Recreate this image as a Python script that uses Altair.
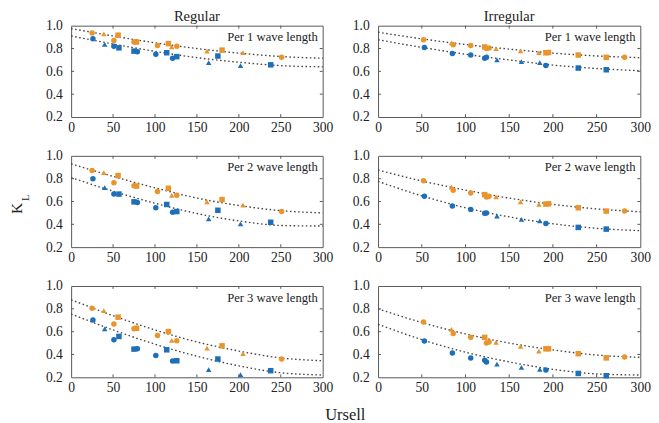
import altair as alt
import pandas as pd

# ---------------- data ----------------
ROWS = ["Per 1 wave length", "Per 2 wave length", "Per 3 wave length"]
COLS = ["Regular", "Irregular"]

# Regular tests
REG_OR_X = [25, 39, 51, 56, 75, 78, 103, 116, 120, 126, 162, 180, 205, 251]
REG_OR_S = ["circle", "triangle", "circle", "square", "circle", "square", "circle",
            "square", "triangle", "circle", "triangle", "square", "triangle", "circle"]
REG_OR_Y = [
    [.937, .929, .871, .917, .857, .857, .826, .843, .814, .820, .777, .786, .763, .723],
    [.872, .852, .765, .827, .739, .735, .688, .716, .654, .654, .597, .617, .569, .512],
    [.805, .785, .668, .727, .625, .630, .567, .601, .523, .520, .456, .476, .407, .360],
]
REG_BL_X = [26, 40, 51, 57, 75, 79, 101, 114, 121, 126, 164, 175, 202, 238]
REG_BL_S = ["circle", "triangle", "circle", "square", "square", "circle", "circle",
            "square", "circle", "square", "triangle", "square", "triangle", "square"]
REG_BL_Y = [
    [.886, .837, .820, .806, .777, .771, .749, .763, .714, .729, .677, .734, .651, .657],
    [.800, .722, .665, .665, .597, .592, .546, .574, .505, .512, .447, .523, .404, .418],
    [.703, .625, .529, .558, .447, .450, .392, .441, .343, .345, .267, .360, .223, .258],
]

# Irregular tests
IRR_OR_X = [52, 84, 86, 106, 122, 124, 127, 135, 163, 184, 192, 195, 229, 261, 282]
IRR_OR_S = ["circle", "triangle", "circle", "circle", "square", "circle", "circle",
            "triangle", "triangle", "triangle", "square", "square", "square", "square", "circle"]
IRR_OR_Y = [
    [.877, .849, .834, .826, .814, .800, .805, .800, .780, .763, .763, .765, .743, .723, .723],
    [.781, .727, .698, .675, .660, .640, .645, .640, .597, .574, .577, .580, .545, .516, .516],
    [.685, .620, .584, .550, .550, .500, .510, .507, .470, .430, .450, .450, .407, .370, .378],
]
IRR_BL_X = [53, 85, 106, 122, 124, 136, 164, 185, 192, 229, 261]
IRR_BL_S = ["circle", "circle", "circle", "circle", "circle", "triangle", "triangle",
            "triangle", "circle", "square", "square"]
IRR_BL_Y = [
    [.809, .757, .743, .714, .723, .700, .686, .677, .651, .629, .614],
    [.646, .560, .531, .496, .500, .473, .444, .430, .407, .373, .358],
    [.518, .412, .369, .350, .335, .315, .286, .269, .263, .234, .214],
]

# Dotted trend curves, read at these Ursell values
FIT_X = [0, 50, 100, 150, 200, 250, 300]
FIT = {
    ("Regular", 0): ([.975, .910, .850, .800, .760, .730, .715],
                     [.910, .840, .775, .720, .680, .650, .640]),
    ("Regular", 1): ([.930, .820, .720, .630, .565, .520, .500],
                     [.810, .690, .585, .495, .430, .390, .385]),
    ("Regular", 2): ([.880, .740, .615, .510, .430, .370, .345],
                     [.755, .615, .490, .385, .300, .240, .220]),
    ("Irregular", 0): ([.943, .885, .835, .795, .760, .735, .720],
                       [.877, .810, .750, .700, .655, .625, .605]),
    ("Irregular", 1): ([.876, .780, .700, .630, .575, .535, .510],
                       [.776, .650, .545, .465, .405, .365, .345]),
    ("Irregular", 2): ([.800, .680, .580, .500, .440, .395, .375],
                       [.665, .530, .420, .335, .270, .230, .220]),
}

X_TICKS = [0, 50, 100, 150, 200, 250, 300]
Y_TICKS = [0.2, 0.4, 0.6, 0.8, 1.0]

ORANGE = "#E8952C"
BLUE = "#1C6FB8"
FONT = "Liberation Serif"
TXT = "#222222"

W = {"Regular": 259, "Irregular": 270}
H = 94

xs = alt.Scale(domain=[0, 300], nice=False, zero=False)
ys = alt.Scale(domain=[0.2, 1.0], nice=False, zero=False)
color_scale = alt.Scale(domain=["orange", "blue"], range=[ORANGE, BLUE])
shape_scale = alt.Scale(domain=["circle", "square", "triangle"],
                        range=["circle", "square", "triangle-up"])

xaxis = alt.Axis(values=X_TICKS, title=None, labelFlush=False, labelOverlap=False,
                 ticks=False, domain=False, grid=False, labelPadding=4,
                 labelFont=FONT, labelFontSize=14, labelColor=TXT)
yaxis = alt.Axis(values=Y_TICKS, format=".1f", title=None, labelFlush=False,
                 labelOverlap=False, ticks=False, domain=False, grid=False, labelPadding=9,
                 labelFont=FONT, labelFontSize=14, labelColor=TXT)
X = lambda: alt.X("u:Q", scale=xs, axis=xaxis)
Y = lambda: alt.Y("k:Q", scale=ys, axis=yaxis)


def points_df(col, r):
    rows = []
    if col == "Regular":
        sets = [("orange", REG_OR_X, REG_OR_S, REG_OR_Y[r]), ("blue", REG_BL_X, REG_BL_S, REG_BL_Y[r])]
    else:
        sets = [("orange", IRR_OR_X, IRR_OR_S, IRR_OR_Y[r]), ("blue", IRR_BL_X, IRR_BL_S, IRR_BL_Y[r])]
    for ser, xv, sv, yv in sets:
        for a, s, b in zip(xv, sv, yv):
            rows.append({"u": a, "k": b, "series": ser, "shape": s})
    return pd.DataFrame(rows)


def fit_df(col, r):
    o, b = FIT[(col, r)]
    rows = [{"u": a, "k": v, "series": "orange"} for a, v in zip(FIT_X, o)]
    rows += [{"u": a, "k": v, "series": "blue"} for a, v in zip(FIT_X, b)]
    return pd.DataFrame(rows)


def text_layer(s, **kw):
    enc = {k: v for k, v in kw.items() if k in ("x", "y")}
    mk = {k: v for k, v in kw.items() if k not in ("x", "y")}
    return alt.Chart(pd.DataFrame({"t": [s]})).mark_text(font=FONT, color=TXT, **mk).encode(
        text="t:N", **enc)


def panel(col, r):
    w = W[col]

    lines = alt.Chart(fit_df(col, r)).mark_line(
        color="#444444", strokeDash=[1.6, 2.6], strokeWidth=1.4, interpolate="monotone"
    ).encode(x=X(), y=Y(), detail="series:N")

    pts = alt.Chart(points_df(col, r)).mark_point(filled=True, size=32, opacity=1).encode(
        x=X(), y=Y(),
        color=alt.Color("series:N", scale=color_scale, legend=None),
        shape=alt.Shape("shape:N", scale=shape_scale, legend=None),
    )

    xt = pd.DataFrame({"u": X_TICKS[1:-1]})
    yt = pd.DataFrame({"k": Y_TICKS[1:-1]})
    tick_style = dict(color="#555555", strokeWidth=1)
    xt_b = alt.Chart(xt).mark_rule(**tick_style).encode(
        x=X(), y=alt.value(H), y2=alt.value(H - 3))
    xt_t = alt.Chart(xt).mark_rule(**tick_style).encode(
        x=X(), y=alt.value(0), y2=alt.value(3))
    yt_l = alt.Chart(yt).mark_rule(**tick_style).encode(
        y=Y(), x=alt.value(0), x2=alt.value(3))
    yt_r = alt.Chart(yt).mark_rule(**tick_style).encode(
        y=Y(), x=alt.value(w - 3), x2=alt.value(w))

    label = text_layer(ROWS[r], align="right", baseline="alphabetic", fontSize=13,
                       x=alt.value(w - 5), y=alt.value(16))

    layers = [lines, xt_b, xt_t, yt_l, yt_r, pts, label]

    if r == 0:
        layers.append(text_layer(col, align="center", baseline="top", fontSize=15,
                                 x=alt.value(w / 2), y=alt.value(-17)))
    if col == "Regular" and r == 1:
        layers.append(text_layer("K", angle=270, fontSize=16, align="center", baseline="middle",
                                 x=alt.value(-56), y=alt.value(54)))
        layers.append(text_layer("L", angle=270, fontSize=11, align="center", baseline="middle",
                                 x=alt.value(-46), y=alt.value(43)))

    return alt.layer(*layers).properties(width=w, height=H)


rows = [alt.hconcat(panel("Regular", r), panel("Irregular", r), spacing=19) for r in range(3)]

chart = alt.vconcat(*rows, spacing=13).properties(
    title=alt.TitleParams("Ursell", orient="bottom", anchor="middle", font=FONT, fontSize=17,
                          fontWeight="normal", color=TXT, offset=12, dx=16),
    background="white",
    padding={"top": -6, "left": 0, "right": 0, "bottom": 0},
).configure_view(stroke="#555555", strokeWidth=1).configure_axis(
    labelFont=FONT, labelFontSize=14, labelColor=TXT
)

chart.save("out.html", embed_options={"renderer": "svg", "actions": False})
